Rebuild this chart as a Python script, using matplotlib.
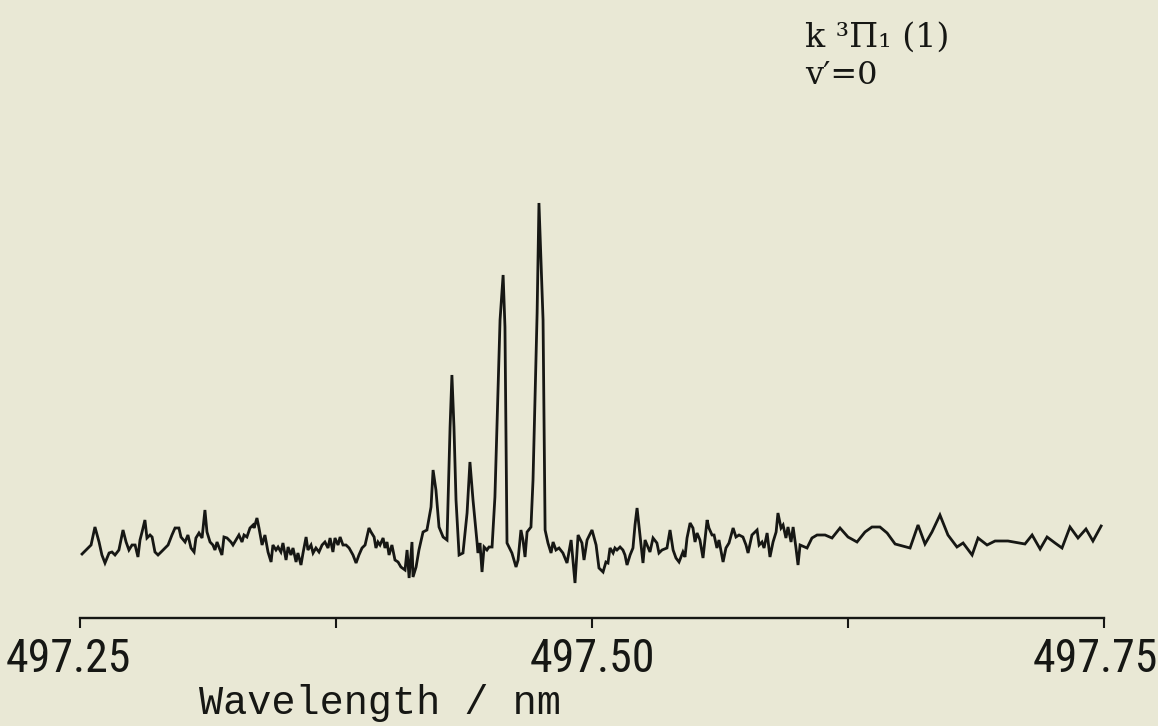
#scan of the k 3Pi1 (1) v'=0 band head, laser excitation spectrum
import matplotlib
matplotlib.use('Agg')
import matplotlib.pyplot as plt
from matplotlib import font_manager
from matplotlib.transforms import ScaledTranslation

#wavelength in nm and signal in arbitrary units
wavelength = [
    497.2510, 497.2539, 497.2554, 497.2573, 497.2593, 497.2607, 497.2622, 497.2642, 497.2656, 497.2671,
    497.2690, 497.2710, 497.2725, 497.2739, 497.2754, 497.2769, 497.2783, 497.2793, 497.2803, 497.2817,
    497.2827, 497.2842, 497.2852, 497.2866, 497.2881, 497.2896, 497.2915, 497.2930, 497.2949, 497.2964,
    497.2983, 497.2993, 497.3013, 497.3027, 497.3042, 497.3057, 497.3066, 497.3081,
    497.3096, 497.3110, 497.3120, 497.3135, 497.3149, 497.3159, 497.3169, 497.3184, 497.3193, 497.3203,
    497.3218, 497.3237, 497.3247, 497.3267, 497.3276, 497.3291, 497.3301, 497.3315, 497.3330, 497.3345,
    497.3350, 497.3364, 497.3374, 497.3389, 497.3403, 497.3418, 497.3433, 497.3442, 497.3457, 497.3467,
    497.3481, 497.3491, 497.3506, 497.3516, 497.3530, 497.3540, 497.3555, 497.3564, 497.3579, 497.3589,
    497.3604, 497.3613, 497.3628, 497.3638, 497.3652, 497.3667, 497.3682,
    497.3696, 497.3711, 497.3721, 497.3735, 497.3745, 497.3760, 497.3770, 497.3784, 497.3799, 497.3814,
    497.3833, 497.3848, 497.3862, 497.3877, 497.3892, 497.3911, 497.3921, 497.3936, 497.3945, 497.3955,
    497.3965, 497.3980, 497.3989, 497.3999, 497.4009, 497.4023, 497.4038, 497.4053, 497.4067,
    497.4087, 497.4097, 497.4107, 497.4121, 497.4126, 497.4141, 497.4155, 497.4175, 497.4194, 497.4214,
    497.4224, 497.4238, 497.4253, 497.4273, 497.4292, 497.4307, 497.4316, 497.4326, 497.4336, 497.4351,
    497.4370, 497.4390, 497.4404, 497.4419, 497.4439, 497.4443, 497.4453, 497.4463, 497.4473, 497.4487,
    497.4497, 497.4512, 497.4526, 497.4551, 497.4566, 497.4575, 497.4585, 497.4609, 497.4629, 497.4639,
    497.4653, 497.4663, 497.4673, 497.4683, 497.4702, 497.4712, 497.4732, 497.4741, 497.4761, 497.4771,
    497.4785, 497.4800, 497.4810, 497.4824, 497.4839, 497.4858, 497.4878, 497.4898, 497.4907, 497.4917,
    497.4932, 497.4951, 497.4961, 497.4976, 497.5000, 497.5020,
    497.5034, 497.5054, 497.5068, 497.5078, 497.5088, 497.5103, 497.5112, 497.5122, 497.5137, 497.5151,
    497.5161, 497.5171, 497.5186, 497.5200, 497.5210, 497.5220, 497.5234, 497.5249, 497.5259, 497.5269,
    497.5283, 497.5298, 497.5317, 497.5327, 497.5342,
    497.5366, 497.5381, 497.5396, 497.5410, 497.5425, 497.5444, 497.5454, 497.5464, 497.5479, 497.5493,
    497.5503, 497.5513, 497.5527, 497.5542, 497.5562, 497.5571, 497.5586, 497.5596, 497.5610, 497.5620,
    497.5640, 497.5654, 497.5669, 497.5689, 497.5703, 497.5718, 497.5737, 497.5752, 497.5762, 497.5781,
    497.5791, 497.5806, 497.5816, 497.5830, 497.5840, 497.5855, 497.5869, 497.5884, 497.5899, 497.5908,
    497.5923, 497.5933, 497.5947, 497.5957, 497.5972, 497.5982, 497.5996, 497.6006, 497.6016,
    #coarser steps past 497.60
    497.6050, 497.6074, 497.6099, 497.6138, 497.6172, 497.6211, 497.6250, 497.6294, 497.6333, 497.6367,
    497.6406, 497.6441, 497.6480, 497.6553, 497.6592, 497.6626, 497.6660, 497.6699, 497.6738, 497.6782,
    497.6812, 497.6856, 497.6885, 497.6929, 497.6968, 497.7031, 497.7114, 497.7149, 497.7188, 497.7222,
    497.7261, 497.7295, 497.7334, 497.7373, 497.7412, 497.7446, 497.7486,
]
intensity = [
    46, 52, 55, 73, 58, 45, 37, 47, 48, 45,
    50, 70, 58, 50, 55, 55, 43, 60, 68, 80,
    62, 65, 63, 48, 45, 48, 52, 55, 65, 72,
    72, 63, 58, 65, 52, 48, 62, 67,
    62, 90, 68, 58, 55, 50, 58, 50, 45, 63,
    62, 58, 55, 62, 65, 58, 65, 63, 72, 75,
    72, 82, 72, 55, 65, 48, 38, 55, 50, 53,
    48, 57, 40, 53, 45, 52, 38, 47, 35, 47,
    63, 50, 55, 47, 52, 48, 55,
    58, 52, 62, 48, 62, 55, 63, 55, 55, 52,
    45, 37, 45, 52, 55, 72, 68, 63, 52, 58,
    55, 62, 52, 58, 45, 55, 40, 38, 33,
    30, 50, 22, 58, 23, 33, 50, 68, 70, 93,
    130, 110, 73, 63, 60, 173, 225, 173, 100, 45,
    47, 87, 138, 100, 57, 47, 57, 28, 53, 50,
    53, 53, 103, 280, 325, 273, 57, 47, 33, 40,
    70, 60, 43, 68, 73, 120, 287, 397, 280, 70,
    57, 47, 58, 50, 52, 47, 37, 60, 40, 17,
    65, 57, 40, 60, 70, 55,
    32, 28, 38, 37, 52, 47, 52, 50, 53, 50,
    45, 35, 45, 52, 75, 92, 65, 37, 60, 55,
    48, 62, 57, 47, 50,
    52, 70, 50, 42, 38, 48, 43, 62, 77, 72,
    58, 67, 60, 42, 80, 72, 65, 65, 52, 60,
    38, 52, 57, 72, 63, 65, 63, 55, 47, 65,
    67, 70, 55, 58, 52, 67, 43, 58, 68, 87,
    72, 75, 62, 73, 58, 73, 52, 35, 55,
    52, 62, 65, 65, 62, 72, 63, 58, 68, 73,
    73, 67, 56, 52, 75, 56, 68, 85, 65, 53,
    57, 45, 62, 55, 59, 59, 56, 65, 51, 63,
    57, 52, 73, 62, 71, 59, 74,
]

tickPos = [497.25, 497.375, 497.50, 497.625, 497.75]
tickLabels = ['497.25', '', '497.50', '', '497.75']
bandLabel = 'k \u00b3\u03a0\u2081 (1)'
levelLabel = 'v\u2032=0'
xLabel = 'Wavelength / nm'

paper = '#e9e8d5'
ink = '#161714'

#narrow face for the numbers, first one installed
names = set(f.name for f in font_manager.fontManager.ttflist)
numFont = dict(family='Roboto', size=29)
for fam in ['Liberation Sans Narrow', 'Roboto Condensed', 'DejaVu Sans Condensed']:
    if fam in names:
        numFont = dict(family=fam, size=33)
        break

fig = plt.figure(figsize=(11.58, 7.26), dpi=100, facecolor=paper)
ax = fig.add_axes([80/1158., 108/726., 1024/1158., 518/726.])
ax.patch.set_alpha(0)

ax.plot(wavelength, intensity, color=ink, lw=2.0, solid_joinstyle='miter')
ax.set_xlim(497.25, 497.75)
ax.set_ylim(-18, 500)

for s in ['left', 'right', 'top']:
    ax.spines[s].set_visible(False)
ax.spines['bottom'].set_linewidth(1.7)
ax.spines['bottom'].set_color(ink)
ax.set_yticks([])
ax.set_xticks(tickPos)
ax.set_xticklabels(tickLabels, color=ink, family=numFont['family'], fontsize=numFont['size'])
ax.tick_params(axis='x', direction='out', length=7.5, width=1.5, color=ink, pad=6)

#end labels sit a bit left of their ticks
lbls = ax.get_xticklabels()
lbls[0].set_transform(lbls[0].get_transform() + ScaledTranslation(-0.12, 0, fig.dpi_scale_trans))
lbls[-1].set_transform(lbls[-1].get_transform() + ScaledTranslation(-0.09, 0, fig.dpi_scale_trans))

fig.text(380/1158., 1 - 714/726., xLabel, ha='center', va='baseline',
         fontsize=29, family='Liberation Mono', color=ink)

fig.text(805/1158., 1 - 47/726., bandLabel, ha='left', va='baseline',
         fontsize=24, family='DejaVu Serif', color=ink)
fig.text(805/1158., 1 - 84/726., levelLabel, ha='left', va='baseline',
         fontsize=23, family='DejaVu Serif', color=ink)

fig.savefig('out.png', dpi=100, facecolor=paper)
